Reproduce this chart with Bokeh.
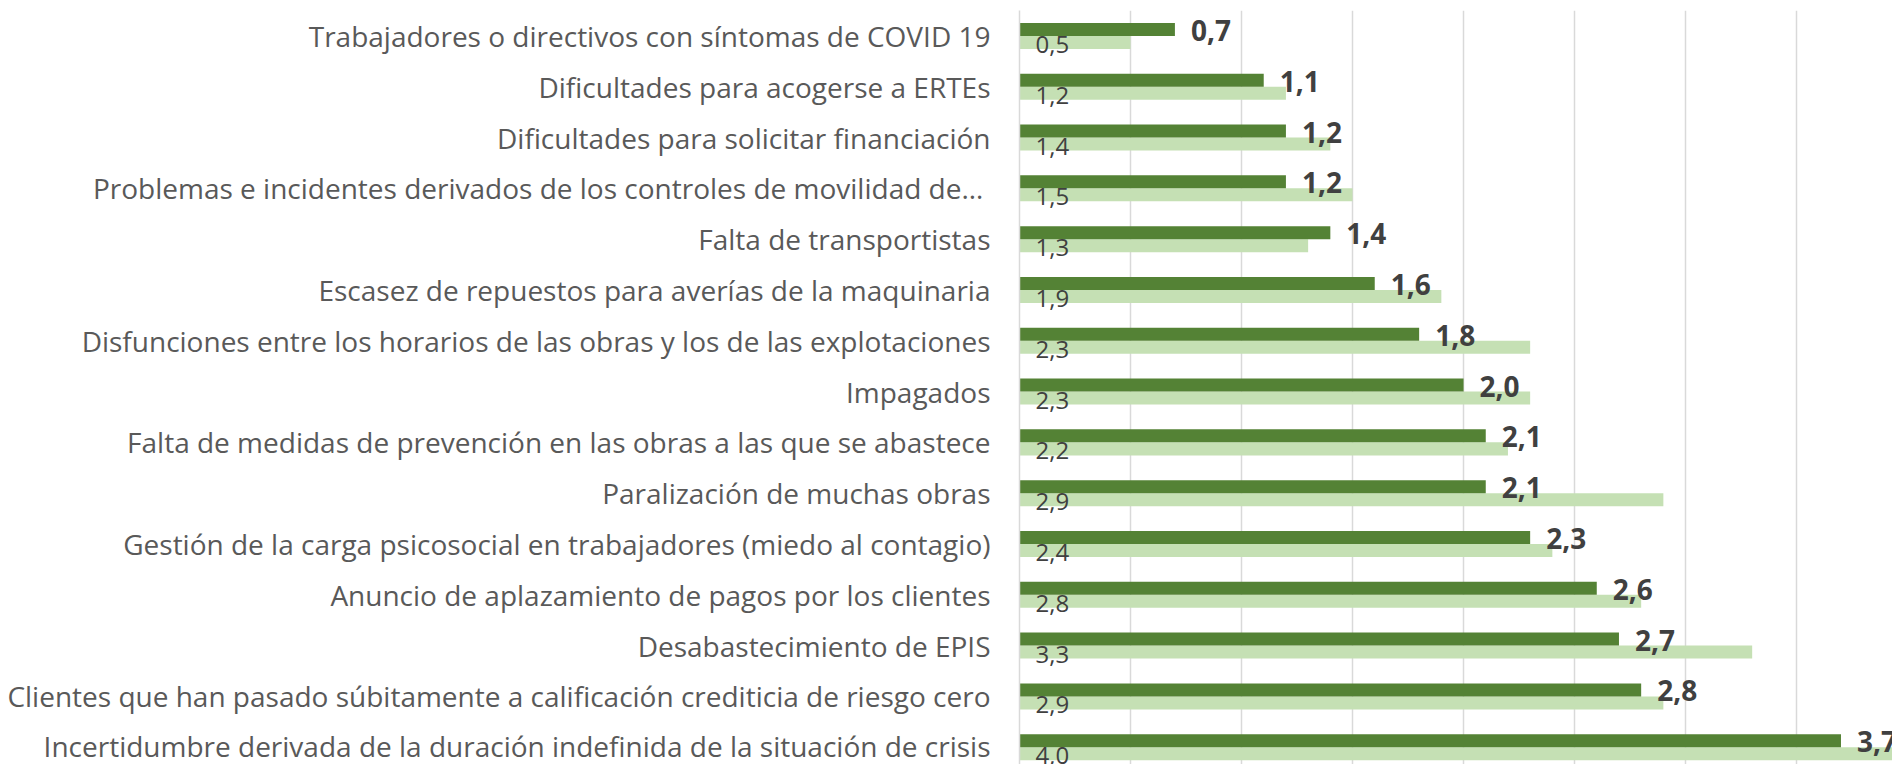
from bokeh.plotting import figure
from bokeh.models import ColumnDataSource, Range1d, FixedTicker, Grid
from bokeh.core.properties import value
from bokeh.embed import file_html
from bokeh.resources import INLINE

categories = [
    "Trabajadores o directivos con síntomas de COVID 19",
    "Dificultades para acogerse a ERTEs",
    "Dificultades para solicitar financiación",
    "Problemas e incidentes derivados de  los controles de movilidad de…",
    "Falta de transportistas",
    "Escasez de repuestos para averías de la maquinaria",
    "Disfunciones entre los horarios de las obras y los de las explotaciones",
    "Impagados",
    "Falta de medidas de prevención en las obras a las que se abastece",
    "Paralización de muchas obras",
    "Gestión de la carga psicosocial en trabajadores (miedo al contagio)",
    "Anuncio de aplazamiento de pagos por los clientes",
    "Desabastecimiento de EPIS",
    "Clientes que han pasado súbitamente a calificación crediticia de riesgo cero",
    "Incertidumbre derivada de la duración indefinida de la situación de crisis",
]
serie_oscura = [0.7, 1.1, 1.2, 1.2, 1.4, 1.6, 1.8, 2.0, 2.1, 2.1, 2.3, 2.6, 2.7, 2.8, 3.7]
serie_clara = [0.5, 1.2, 1.4, 1.5, 1.3, 1.9, 2.3, 2.3, 2.2, 2.9, 2.4, 2.8, 3.3, 2.9, 4.0]
grid_ticks = [0.5, 1.0, 1.5, 2.0, 2.5, 3.0, 3.5]

def fmt(v):
    return f"{v:.1f}".replace(".", ",")

idx = list(range(len(categories)))
BAR_H = 0.256
OFF = 0.128

src_dark = ColumnDataSource(dict(
    y=[i - OFF for i in idx], right=serie_oscura,
    lab=[fmt(v) for v in serie_oscura]))
src_light = ColumnDataSource(dict(
    y=[i + OFF for i in idx], right=serie_clara, zero=[0] * len(idx),
    lab=[fmt(v) for v in serie_clara]))

p = figure(width=1892, height=764, output_backend="svg", toolbar_location=None,
           x_range=Range1d(0, 3.932), y_range=Range1d(14.34, -0.5),
           x_axis_location=None, min_border_left=1019, min_border_right=0,
           min_border_top=10, min_border_bottom=0)
p.outline_line_color = None
p.background_fill_color = "white"
p.border_fill_color = "white"
p.xgrid.grid_line_color = None
p.ygrid.grid_line_color = None

g = Grid(dimension=0, ticker=FixedTicker(ticks=grid_ticks),
         grid_line_color="#d9d9d9", grid_line_width=1.5)
p.add_layout(g)

p.hbar(y="y", left=0, right="right", height=BAR_H, source=src_light,
       fill_color="#c5e0b4", line_color=None)
p.hbar(y="y", left=0, right="right", height=BAR_H, source=src_dark,
       fill_color="#548235", line_color=None)

p.text(x="right", y="y", text="lab", source=src_dark, x_offset=16, y_offset=1,
       text_align="left", text_baseline="middle", text_font=value("Open Sans"),
       text_font_style="bold", text_font_size="28px", text_color="#404040")
p.text(x="zero", y="y", text="lab", source=src_light, x_offset=16, y_offset=2,
       text_align="left", text_baseline="middle", text_font=value("Open Sans"),
       text_font_size="24px", text_color="#404040")

ax = p.yaxis[0]
ax.ticker = FixedTicker(ticks=idx)
ax.major_label_overrides = {i: c for i, c in enumerate(categories)}
ax.major_tick_line_color = None
ax.minor_tick_line_color = None
ax.axis_line_color = "#d9d9d9"
ax.axis_line_width = 1.5
ax.major_label_standoff = 23
ax.major_label_text_font = "Open Sans"
ax.major_label_text_font_size = "28px"
ax.major_label_text_color = "#595959"

open("out.html", "w").write(file_html(p, INLINE))
